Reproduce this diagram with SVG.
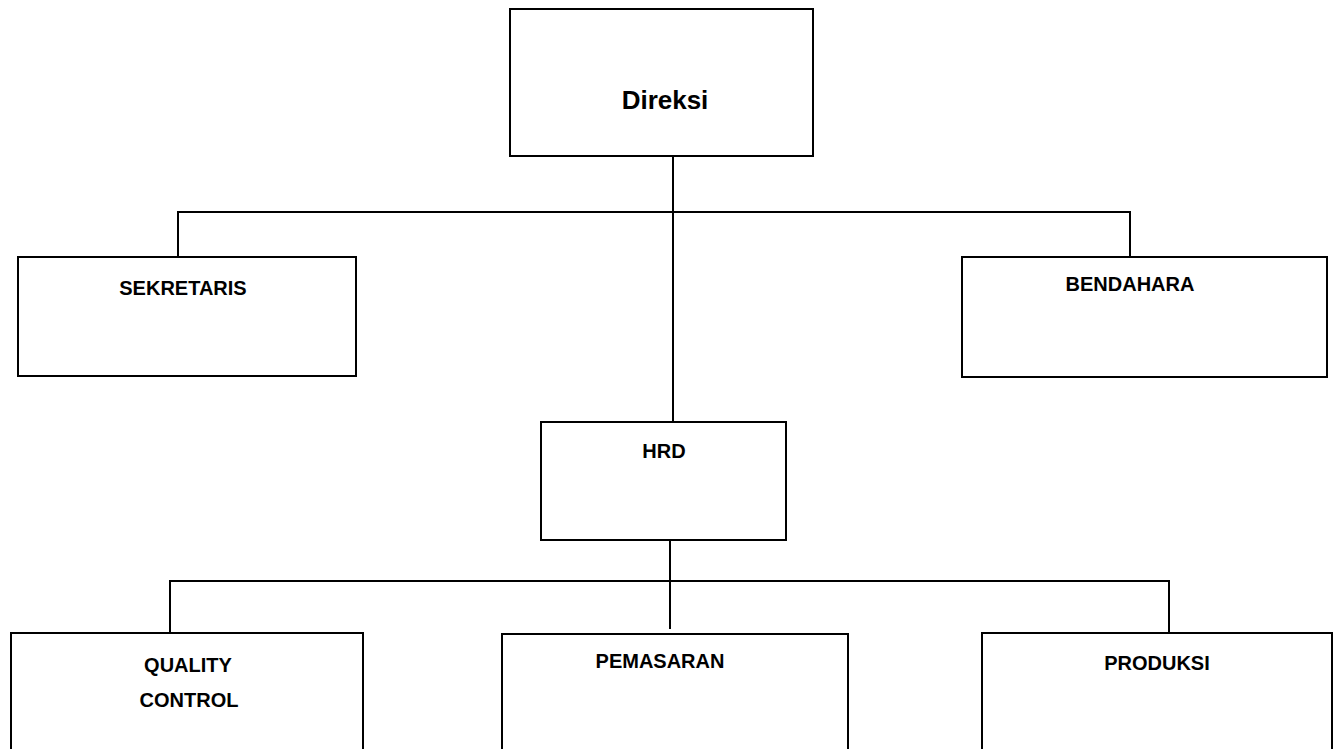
<svg xmlns="http://www.w3.org/2000/svg" width="1340" height="749" viewBox="0 0 1340 749">
  <style>
    .box { fill: #ffffff; stroke: #000000; stroke-width: 2; }
    .conn { fill: none; stroke: #000000; stroke-width: 2; }
    .lbl { font-family: "Liberation Sans", Arial, sans-serif; font-weight: bold; font-size: 20px; fill: #000000; text-anchor: middle; }
    .big { font-size: 26px; }
  </style>
  <rect width="1340" height="749" fill="#ffffff"/>
  <g id="connectors">
    <line class="conn" x1="673" y1="156" x2="673" y2="423"/>
    <line class="conn" x1="178" y1="212" x2="1130" y2="212"/>
    <line class="conn" x1="178" y1="211" x2="178" y2="257"/>
    <line class="conn" x1="1130" y1="211" x2="1130" y2="257"/>
    <line class="conn" x1="670" y1="540" x2="670" y2="629"/>
    <line class="conn" x1="170" y1="581" x2="1169" y2="581"/>
    <line class="conn" x1="170" y1="580" x2="170" y2="633"/>
    <line class="conn" x1="1169" y1="580" x2="1169" y2="633"/>
  </g>
  <g id="direksi">
    <rect class="box" x="510" y="9" width="303" height="147"/>
    <text class="lbl big" x="665" y="109">Direksi</text>
  </g>
  <g id="sekretaris">
    <rect class="box" x="18" y="257" width="338" height="119"/>
    <text class="lbl" x="183" y="295">SEKRETARIS</text>
  </g>
  <g id="bendahara">
    <rect class="box" x="962" y="257" width="365" height="120"/>
    <text class="lbl" x="1130" y="291">BENDAHARA</text>
  </g>
  <g id="hrd">
    <rect class="box" x="541" y="422" width="245" height="118"/>
    <text class="lbl" x="664" y="458">HRD</text>
  </g>
  <g id="quality-control">
    <rect class="box" x="11" y="633" width="352" height="130"/>
    <text class="lbl" x="188" y="672">QUALITY</text>
    <text class="lbl" x="189" y="707">CONTROL</text>
  </g>
  <g id="pemasaran">
    <rect class="box" x="502" y="634" width="346" height="130"/>
    <text class="lbl" x="660" y="668">PEMASARAN</text>
  </g>
  <g id="produksi">
    <rect class="box" x="982" y="633" width="350" height="130"/>
    <text class="lbl" x="1157" y="670">PRODUKSI</text>
  </g>
</svg>
